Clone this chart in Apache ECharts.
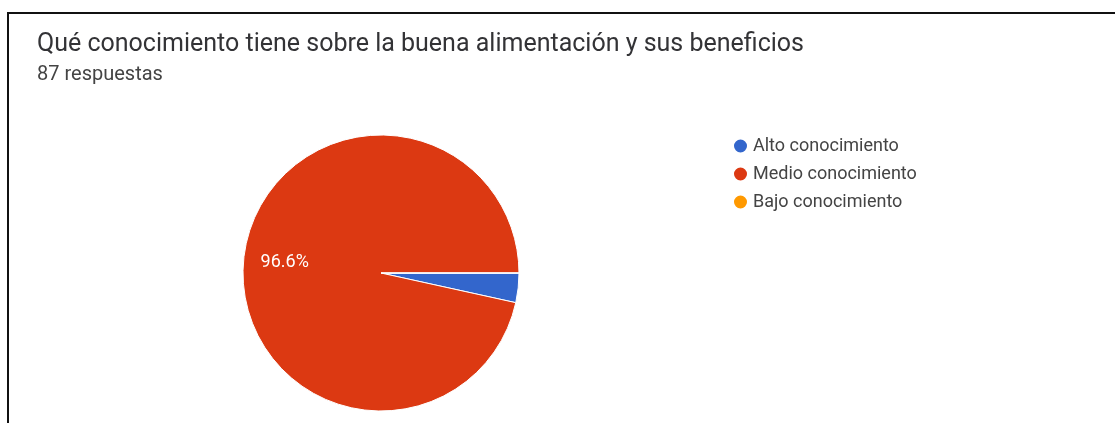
<!DOCTYPE html>
<html>
<head>
<meta charset="utf-8">
<script src="https://cdn.jsdelivr.net/npm/echarts@6/dist/echarts.min.js"></script>
<style>
  html, body { margin: 0; padding: 0; background: #fff; }
  #chart { width: 1115px; height: 423px; }
</style>
</head>
<body>
<div id="chart"></div>
<script>
// Survey question and answer counts
const titleText = 'Qué conocimiento tiene sobre la buena alimentación y sus beneficios';
const subtitleText = '87 respuestas';
const categories = ['Alto conocimiento', 'Medio conocimiento', 'Bajo conocimiento'];
const counts = [3, 84, 0];
const colors = ['#3366cc', '#dc3912', '#ff9900'];

const pieData = categories.map((name, i) => ({ name, value: counts[i] }));

const chart = echarts.init(document.getElementById('chart'), null, { renderer: 'canvas' });

const center = [381, 273];
const radius = 138;

chart.setOption({
  backgroundColor: '#ffffff',
  color: colors,
  animation: false,
  title: {
    text: titleText,
    subtext: subtitleText,
    left: 32,
    top: 27,
    itemGap: 8,
    textStyle: { fontFamily: 'Roboto', fontSize: 25, fontWeight: 'normal', color: '#333336' },
    subtextStyle: { fontFamily: 'Roboto', fontSize: 20, color: '#444444' }
  },
  legend: {
    orient: 'vertical',
    left: 727,
    top: 132,
    icon: 'circle',
    itemWidth: 15,
    itemHeight: 15,
    itemGap: 10,
    data: categories,
    textStyle: { fontFamily: 'Roboto', fontSize: 18, color: '#444444' }
  },
  graphic: [{
    type: 'polyline',
    shape: { points: [[8, 423], [8, 13], [1115, 13]] },
    style: { stroke: '#111111', lineWidth: 2, fill: null },
    silent: true
  }],
  series: [
    {
      type: 'pie',
      center: center,
      radius: [0, radius],
      startAngle: 0,
      clockwise: true,
      data: pieData,
      itemStyle: { borderColor: '#ffffff', borderWidth: 1 },
      label: { show: false },
      labelLine: { show: false },
      emphasis: { disabled: true }
    },
    {
      // transparent ring used only to place percentage labels further out
      type: 'pie',
      center: center,
      radius: [0, radius * 1.36],
      startAngle: 0,
      clockwise: true,
      silent: true,
      percentPrecision: 1,
      data: pieData,
      itemStyle: { color: 'rgba(0,0,0,0)', borderWidth: 0 },
      label: {
        show: true,
        position: 'inside',
        color: '#ffffff',
        fontFamily: 'Roboto',
        fontSize: 18,
        formatter: p => (p.percent >= 5 ? p.percent.toFixed(1) + '%' : '')
      },
      labelLine: { show: false },
      emphasis: { disabled: true }
    }
  ]
});
</script>
</body>
</html>
